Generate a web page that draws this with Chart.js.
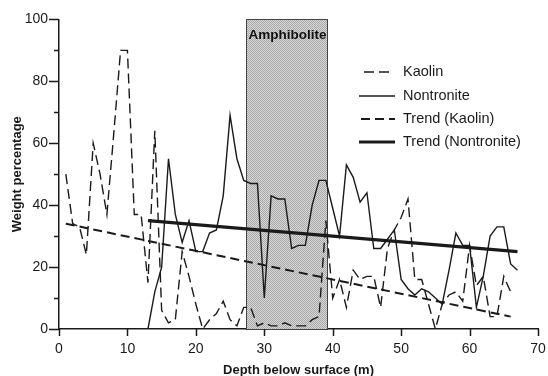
<!DOCTYPE html>
<html>
<head>
<meta charset="utf-8">
<script src="https://cdn.jsdelivr.net/npm/chart.js@4.4.1/dist/chart.umd.min.js"></script>
<style>
  html, body { margin: 0; padding: 0; background: #fff; }
  #wrap { width: 548px; height: 376px; }
</style>
</head>
<body>
<div id="wrap"><canvas id="chart" width="548" height="376"></canvas></div>
<script>
// Values (depth in m, weight %)
const kaolinDepth = [1, 2, 3, 4, 5, 6, 7, 8, 9, 10, 11, 12, 13, 14, 15, 16, 17, 18, 19, 20,
  21, 22, 23, 24, 25, 26, 27, 28, 29, 30, 31, 32, 33, 34, 35, 36, 37, 38, 39, 40,
  41, 42, 43, 44, 45, 46, 47, 48, 49, 50, 51, 52, 53, 54, 55, 56, 57, 58, 59, 60,
  61, 62, 63, 64, 65, 66];
const kaolinValues = [50, 34, 33, 24, 60, 50, 37, 63, 90, 90, 37, 37, 15, 64, 6, 2, 3, 25, 17, 8,
  0, 3, 5, 9, 3, 1, 7, 7, 1, 2, 1, 1, 2, 1, 1, 1, 3, 4, 35, 10,
  16, 7, 19, 16, 17, 17, 7, 26, 32, 36, 42, 16, 16, 8, 0, 8, 11, 12, 9, 27,
  14, 17, 4, 4, 17, 12];

const nontroniteDepth = [13, 14, 15, 16, 17, 18, 19, 20, 21, 22, 23, 24, 25, 26, 27, 28, 29, 30,
  31, 32, 33, 34, 35, 36, 37, 38, 39, 40, 41, 42, 43, 44, 45, 46, 47, 48, 49, 50,
  51, 52, 53, 54, 55, 56, 57, 58, 59, 60, 61, 62, 63, 64, 65, 66, 67];
const nontroniteValues = [0, 12, 20, 55, 37, 28, 35, 25, 25, 31, 32, 43, 69, 55, 48, 47, 47, 10,
  43, 42, 42, 26, 27, 27, 40, 48, 48, 39, 30, 53, 49, 41, 44, 26, 26, 29, 32, 16,
  13, 11, 13, 12, 10, 8, 19, 31, 27, 27, 7, 17, 30, 33, 33, 21, 19];

// linear trend end points
const trendKaolinDepth = [1, 66];
const trendKaolinValues = [34, 4];
const trendNontroniteDepth = [13, 67];
const trendNontroniteValues = [35, 25];

const amphiboliteZone = [27.4, 39.3];
const zoneLabel = 'Amphibolite';

const xTicks = [0, 10, 20, 30, 40, 50, 60, 70];
const yTicks = [0, 20, 40, 60, 80, 100];

const ink = '#1a1a1a';
const sans = '"Liberation Sans", Arial, sans-serif';

function points(xs, ys) {
  return xs.map((d, i) => ({ x: d, y: ys[i] }));
}

// stippled grey fill for the amphibolite band
function stipple(ctx) {
  const c = document.createElement('canvas');
  c.width = 2; c.height = 2;
  const p = c.getContext('2d');
  p.fillStyle = '#d8d8d8';
  p.fillRect(0, 0, 2, 2);
  p.fillStyle = '#a8a8a8';
  p.fillRect(0, 0, 1, 1);
  p.fillRect(1, 1, 1, 1);
  return ctx.createPattern(c, 'repeat');
}

const amphibolitePlugin = {
  id: 'amphibolite',
  beforeDatasetsDraw(chart) {
    const { ctx, scales: { x, y } } = chart;
    const left = x.getPixelForValue(amphiboliteZone[0]);
    const right = x.getPixelForValue(amphiboliteZone[1]);
    const top = y.getPixelForValue(100);
    const bottom = y.getPixelForValue(0);
    ctx.save();
    ctx.fillStyle = stipple(ctx);
    ctx.fillRect(left, top, right - left, bottom - top);
    ctx.strokeStyle = '#444';
    ctx.lineWidth = 1;
    ctx.strokeRect(Math.round(left) + 0.5, Math.round(top) + 0.5, Math.round(right - left), Math.round(bottom - top));
    ctx.font = 'bold 13.5px ' + sans;
    ctx.fillStyle = '#111';
    ctx.textBaseline = 'middle';
    ctx.fillText(zoneLabel, left + 2, top + 16);
    ctx.restore();
  }
};

// tick marks: long at labelled values, short in between
const tickPlugin = {
  id: 'tickMarks',
  afterDraw(chart) {
    const { ctx, scales: { x, y } } = chart;
    ctx.save();
    ctx.strokeStyle = ink;
    ctx.lineWidth = 1.5;
    ctx.beginPath();
    for (let v = 0; v <= 100; v += 10) {
      const py = Math.round(y.getPixelForValue(v)) + 0.5;
      const len = v % 20 === 0 ? 10 : 5;
      ctx.moveTo(x.left - len, py);
      ctx.lineTo(x.left, py);
    }
    xTicks.forEach(v => {
      const px = Math.round(x.getPixelForValue(v)) + 0.5;
      ctx.moveTo(px, y.bottom);
      ctx.lineTo(px, y.bottom + 7);
    });
    ctx.stroke();
    ctx.restore();
  }
};

// legend drawn inside the plot, to the right of the band
const legendPlugin = {
  id: 'insideLegend',
  afterDraw(chart) {
    const { ctx } = chart;
    const rows = [
      { y: 72, from: 364, to: 391 },
      { y: 96, from: 359, to: 395 },
      { y: 119, from: 361, to: 395 },
      { y: 142, from: 359, to: 395 }
    ];
    ctx.save();
    ctx.font = '14.5px ' + sans;
    ctx.textBaseline = 'middle';
    chart.data.datasets.forEach((ds, i) => {
      const r = rows[i];
      ctx.strokeStyle = ds.borderColor;
      ctx.lineWidth = ds.borderWidth;
      ctx.setLineDash(ds.borderDash || []);
      ctx.beginPath();
      ctx.moveTo(r.from, r.y);
      ctx.lineTo(r.to, r.y);
      ctx.stroke();
      ctx.setLineDash([]);
      ctx.fillStyle = ink;
      ctx.fillText(ds.label, 403, r.y);
    });
    ctx.restore();
  }
};

new Chart(document.getElementById('chart'), {
  type: 'line',
  data: {
    datasets: [
      {
        label: 'Kaolin',
        data: points(kaolinDepth, kaolinValues),
        borderColor: ink,
        borderWidth: 1.4,
        borderDash: [10, 5]
      },
      {
        label: 'Nontronite',
        data: points(nontroniteDepth, nontroniteValues),
        borderColor: ink,
        borderWidth: 1.4
      },
      {
        label: 'Trend (Kaolin)',
        data: points(trendKaolinDepth, trendKaolinValues),
        borderColor: ink,
        borderWidth: 2,
        borderDash: [9, 5]
      },
      {
        label: 'Trend (Nontronite)',
        data: points(trendNontroniteDepth, trendNontroniteValues),
        borderColor: ink,
        borderWidth: 3.2
      }
    ]
  },
  options: {
    responsive: false,
    animation: false,
    layout: { padding: { left: 0, top: 17, right: 10, bottom: 0 } },
    elements: {
      point: { radius: 0 },
      line: { tension: 0, borderCapStyle: 'butt' }
    },
    plugins: {
      legend: { display: false },
      tooltip: { enabled: false }
    },
    scales: {
      x: {
        type: 'linear',
        min: 0,
        max: 70,
        afterFit(scale) {
          scale.height = 47;
          scale.paddingLeft = 0;
          scale.paddingRight = 0;
        },
        afterBuildTicks(scale) { scale.ticks = xTicks.map(v => ({ value: v })); },
        grid: { display: false, drawTicks: false },
        border: { display: true, color: ink, width: 1.5 },
        ticks: {
          padding: 12,
          color: ink,
          font: { family: sans, size: 14 }
        },
        title: {
          display: true,
          text: 'Depth below surface (m)',
          color: ink,
          padding: { top: 0, bottom: -2 },
          font: { family: sans, size: 13, weight: 'bold' }
        }
      },
      y: {
        min: 0,
        max: 100,
        afterFit(scale) { scale.width = 59; },
        afterBuildTicks(scale) { scale.ticks = yTicks.map(v => ({ value: v })); },
        grid: { display: false, drawTicks: false },
        border: { display: true, color: ink, width: 1.5 },
        ticks: {
          padding: 11,
          color: ink,
          font: { family: sans, size: 14 }
        },
        title: {
          display: true,
          text: 'Weight percentage',
          color: ink,
          padding: { top: 10, bottom: 0 },
          font: { family: sans, size: 13, weight: 'bold' }
        }
      }
    }
  },
  plugins: [amphibolitePlugin, tickPlugin, legendPlugin]
});
</script>
</body>
</html>
